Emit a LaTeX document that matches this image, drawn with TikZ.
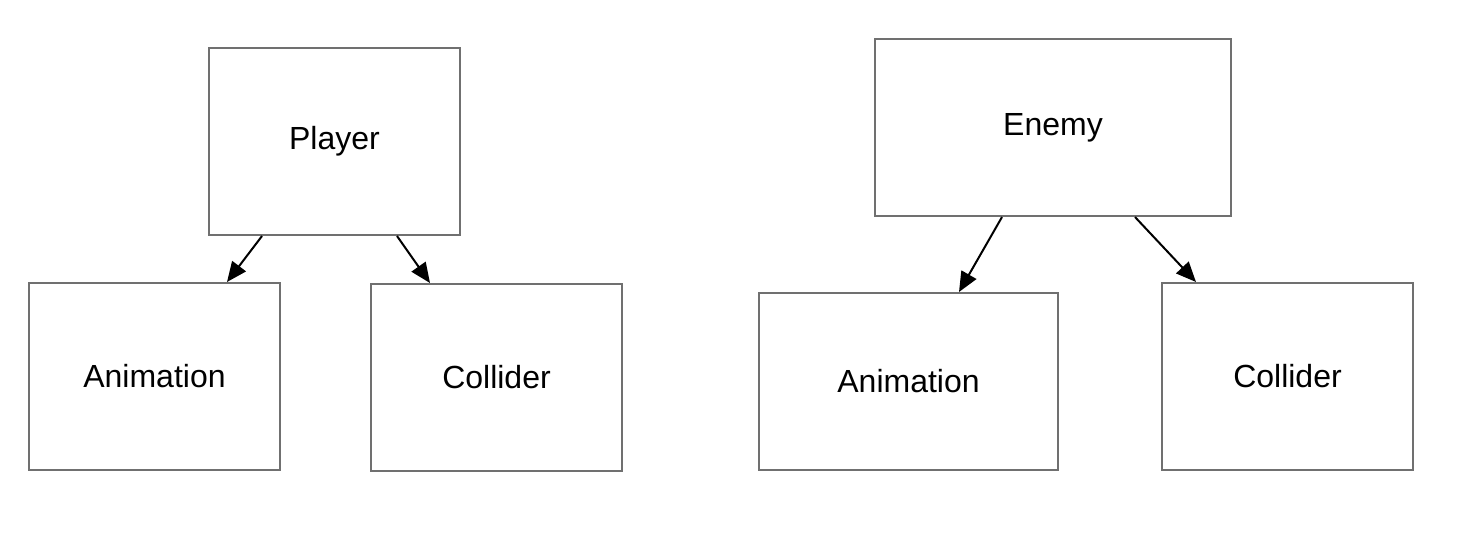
\documentclass[tikz,border=0pt]{standalone}
\usepackage{fontspec}
\setmainfont{Liberation Sans}
\usetikzlibrary{arrows.meta,calc}
\begin{document}
\begin{tikzpicture}[x=0.5pt,y=-0.5pt,
  box/.style={draw=black!56,line width=1pt,fill=white,inner sep=0pt,
    font=\fontsize{16}{19}\selectfont},
  conn/.style={draw=black,line width=1pt,-{Triangle[length=10pt,width=8.5pt]}}]
\useasboundingbox (0,0) rectangle (1482,538);
\node[box,minimum width=125.5pt,minimum height=93.5pt] (pl) at (334.5,141.5) {Player};
\node[box,minimum width=125.5pt,minimum height=93.5pt] (anl) at (154.5,376.5) {Animation};
\node[box,minimum width=125.5pt,minimum height=93.5pt] (col) at (496.5,377.5) {Collider};
\node[box,minimum width=178pt,minimum height=88.5pt] (en) at (1053,127.5) {Enemy};
\node[box,minimum width=149.5pt,minimum height=88.5pt] (anr) at (908.5,381.5) {Animation};
\node[box,minimum width=125.5pt,minimum height=93.5pt] (cor) at (1287.5,376.5) {Collider};
\draw[conn] ([xshift=27pt]pl.south west) -- ([xshift=99.5pt]anl.north west);
\draw[conn] ([xshift=94.5pt]pl.south west) -- ([xshift=30pt]col.north west);
\draw[conn] ([xshift=64pt]en.south west) -- ([xshift=100.5pt]anr.north west);
\draw[conn] ([xshift=130.5pt]en.south west) -- ([xshift=17.5pt]cor.north west);
\end{tikzpicture}
\end{document}
